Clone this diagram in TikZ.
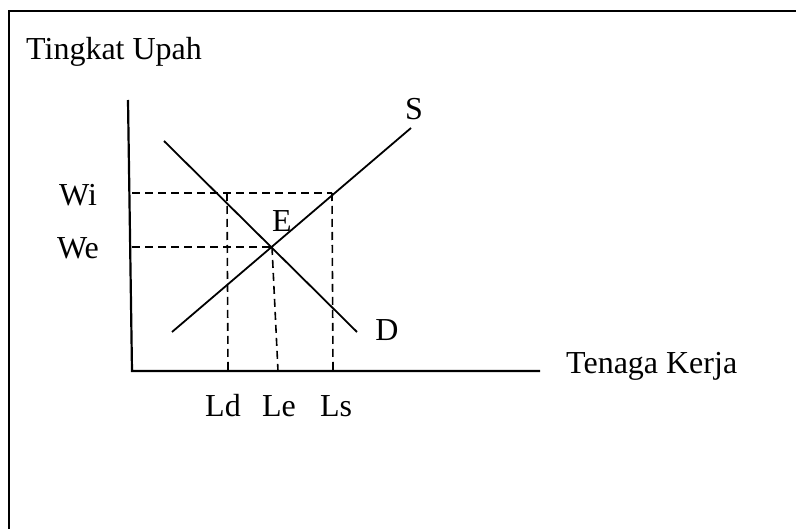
\documentclass[tikz,border=0pt]{standalone}
\usepackage{fontspec}
\setmainfont{Liberation Serif}
\begin{document}
\begin{tikzpicture}[x=1pt,y=-1pt,
  axis/.style={line width=2.2pt},
  curve/.style={line width=1.8pt},
  guide/.style={line width=1.6pt, dash pattern=on 8pt off 5pt},
  lbl/.style={font=\fontsize{32}{32}\selectfont, inner sep=0pt, anchor=center}]
\useasboundingbox (0,0) rectangle (796,529);
% frame
\draw[line width=2pt] (9,529) -- (9,11) -- (796,11);
% coordinates
\coordinate (ytop) at (128,100);
\coordinate (O) at (132,371);
\coordinate (xend) at (540,371);
\coordinate (E) at (272,247);
\coordinate (Dstart) at (164,141);
\coordinate (Dend) at (357,332);
\coordinate (Sstart) at (172,332);
\coordinate (Send) at (411,128);
\coordinate (wi0) at (132,193);
\coordinate (we0) at (132,247);
\coordinate (ldt) at (227,193);
\coordinate (ldb) at (228,371);
\coordinate (leb) at (278,371);
\coordinate (lst) at (332,193);
\coordinate (lsb) at (333,371);
% axes
\draw[axis] (ytop) -- (O) -- (xend);
% guides
\draw[guide] (wi0) -- (lst);
\draw[guide] (we0) -- (E);
\draw[guide] (ldt) -- (ldb);
\draw[guide] (E) -- (leb);
\draw[guide] (lst) -- (lsb);
% curves
\draw[curve] (Dstart) -- (Dend);
\draw[curve] (Sstart) -- (Send);
% labels
\node[lbl, anchor=west] (ty) at (26,52) {Tingkat Upah};
\node[lbl, anchor=west] (tx) at (566,366) {Tenaga Kerja};
\node[lbl] (wi) at (78,195) {Wi};
\node[lbl] (we) at (78,248) {We};
\node[lbl] (el) at (282,221) {E};
\node[lbl] (sl) at (414,109) {S};
\node[lbl] (dl) at (387,330) {D};
\node[lbl] (ld) at (223,406) {Ld};
\node[lbl] (le) at (279,406) {Le};
\node[lbl] (ls) at (336,406) {Ls};
\end{tikzpicture}
\end{document}
